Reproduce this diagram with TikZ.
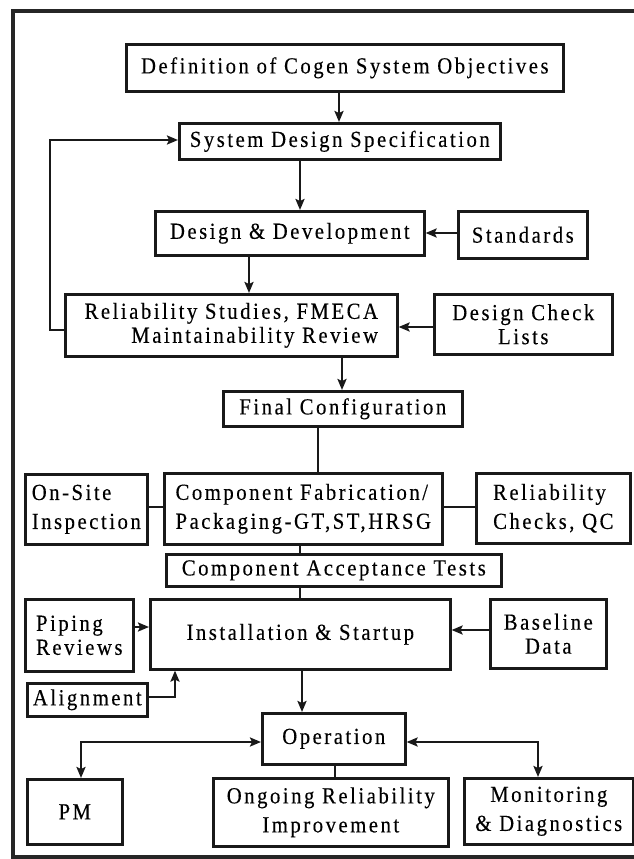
\documentclass[tikz,border=0pt]{standalone}
\usepackage{fontspec}
\setmainfont{Liberation Serif}[LetterSpace=11,FakeStretch=0.9,FakeBold=0.25]
\usetikzlibrary{arrows.meta}
\begin{document}
\begin{tikzpicture}[x=1pt,y=-1pt,
  box/.style={draw=black!90, line width=2.6pt, inner sep=0pt, anchor=north west,
    font=\fontsize{23}{24}\selectfont},
  wide/.style={font=\fontsize{23}{29}\selectfont},
  arr/.style={line width=2.2pt, draw=black!90, -{Stealth[length=11pt,width=9pt,inset=2pt]}},
  dblarr/.style={line width=2.2pt, draw=black!90, {Stealth[length=11pt,width=9pt,inset=2pt]}-{Stealth[length=11pt,width=9pt,inset=2pt]}},
  link/.style={line width=2.2pt, draw=black!90},
  thin/.style={line width=1.6pt, draw=black!90},
  frameline/.style={line width=4.5pt, draw=black!85}]
\useasboundingbox (0,0) rectangle (634,859);
% frame
\draw[frameline] (634,11) -- (13,11) -- (13,857) -- (634,857);
% boxes
\node[box, minimum width=437pt, minimum height=47pt] (b1) at (125,43) {Definition of Cogen System Objectives};
\node[box, minimum width=321pt, minimum height=36pt] (b2) at (178,122) {System Design Specification};
\node[box, minimum width=269pt, minimum height=44pt] (b3) at (154,210) {Design \& Development};
\node[box, minimum width=129pt, minimum height=47pt] (std) at (457,210) {Standards};
\node[box, minimum width=332pt, minimum height=62pt, align=right] (rel) at (64,293) {Reliability Studies, FMECA\\Maintainability Review};
\node[box, minimum width=178pt, minimum height=60pt, align=center] (dcl) at (433,293) {Design Check\\Lists};
\node[box, minimum width=239pt, minimum height=35pt] (fin) at (222,390) {Final Configuration};
\node[box, wide, minimum width=278pt, minimum height=71pt, align=left] (cf) at (163,472) {Component Fabrication/\\Packaging-GT,ST,HRSG};
\node[box, wide, minimum width=122pt, minimum height=70pt, align=left] (os) at (24,473) {On-Site\\Inspection};
\node[box, wide, minimum width=154pt, minimum height=70pt, align=left] (rc) at (475,472) {Reliability\\Checks, QC};
\node[box, minimum width=335pt, minimum height=32pt] (cat) at (165,553) {Component Acceptance Tests};
\node[box, minimum width=108pt, minimum height=72pt, align=left] (pip) at (24,598) {Piping\\Reviews};
\node[box, minimum width=300pt, minimum height=70pt] (ins) at (149,598) {\raisebox{-8pt}{Installation \& Startup}};
\node[box, minimum width=116pt, minimum height=69pt, align=center] (bas) at (489,598) {Baseline\\Data};
\node[box, minimum width=120pt, minimum height=33pt] (ali) at (26,682) {Alignment};
\node[box, minimum width=143pt, minimum height=51pt] (op) at (261,712) {\raisebox{-6pt}{Operation}};
\node[box, minimum width=95pt, minimum height=65pt] (pm) at (26,778) {\raisebox{-12pt}{PM}};
\node[box, wide, minimum width=235pt, minimum height=68pt, align=center] (ong) at (212,777) {Ongoing Reliability\\Improvement};
\node[box, wide, minimum width=169pt, minimum height=66pt, align=center] (mon) at (463,777) {Monitoring\\\& Diagnostics};
% reference coordinates
\coordinate (x339) at (339,0);
\coordinate (x300) at (300,0);
\coordinate (x249) at (249,0);
\coordinate (x342) at (342,0);
\coordinate (x318) at (318,0);
\coordinate (x302) at (302,0);
\coordinate (x335) at (335,0);
\coordinate (y233) at (0,233);
\coordinate (y327) at (0,327);
\coordinate (y507) at (0,507);
\coordinate (y627) at (0,627);
\coordinate (y630) at (0,630);
\coordinate (fbA) at (50,330);
\coordinate (fbB) at (50,140);
\coordinate (alA) at (175,697);
\coordinate (pmA) at (81,742);
\coordinate (monA) at (538,742);
% connectors
\draw[arr] (b1.south -| x339) -- (b2.north -| x339);
\draw[arr] (b2.south -| x300) -- (b3.north -| x300);
\draw[arr] (std.west |- y233) -- (b3.east |- y233);
\draw[arr] (b3.south -| x249) -- (rel.north -| x249);
\draw[arr] (dcl.west |- y327) -- (rel.east |- y327);
\draw[arr] (rel.west |- fbA) -- (fbA) -- (fbB) -- (b2.west |- fbB);
\draw[arr, line width=2.8pt] (rel.south -| x342) -- (fin.north -| x342);
\draw[link, line width=2.8pt] (fin.south -| x318) -- (cf.north -| x318);
\draw[link] (os.east |- y507) -- (cf.west |- y507);
\draw[link] (cf.east |- y507) -- (rc.west |- y507);
\draw[thin] (cf.south -| x300) -- (cat.north -| x300);
\draw[thin] (cat.south -| x300) -- (ins.north -| x300);
\draw[arr] (pip.east |- y627) -- (ins.west |- y627);
\draw[arr] (bas.west |- y630) -- (ins.east |- y630);
\draw[arr] (ali.east |- alA) -- (alA) -- (ins.south -| alA);
\draw[arr] (ins.south -| x302) -- (op.north -| x302);
\draw[dblarr] (pm.north -| pmA) -- (pmA) -- (op.west |- pmA);
\draw[dblarr] (op.east |- monA) -- (monA) -- (mon.north -| monA);
\draw[thin] (op.south -| x335) -- (ong.north -| x335);
\end{tikzpicture}
\end{document}
